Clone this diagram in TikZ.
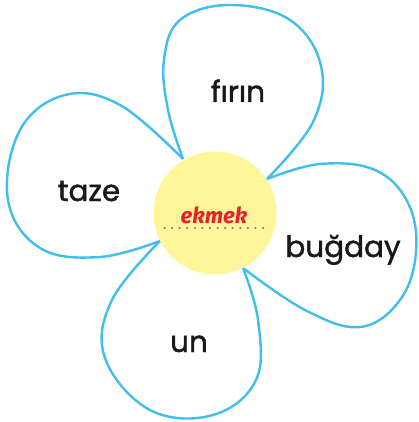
\documentclass[tikz,border=0pt]{standalone}
\usepackage{fontspec}
\usetikzlibrary{calc}
\setmainfont{Poppins}
\newfontfamily\redfont{Fira Sans}
\definecolor{petalblue}{RGB}{64,190,236}
\definecolor{centeryellow}{RGB}{255,245,155}
\definecolor{wordred}{RGB}{232,30,40}
\definecolor{dotgray}{RGB}{125,130,140}
\begin{document}
\begin{tikzpicture}[x=1pt,y=-1pt,
  petal/.style={draw=petalblue,line width=2.4pt,line join=round,fill=white},
  word/.style={anchor=base,inner sep=0pt,font=\fontsize{29.5}{29.5}\selectfont\addfontfeature{FakeBold=1.4},text=black!90},
  centerdisc/.style={circle,fill=centeryellow,minimum size=123pt,inner sep=0pt},
  dotmark/.style={fill=dotgray}]
\useasboundingbox (0,0) rectangle (418,422);
% petals
\draw[petal] plot[smooth,tension=0.65] coordinates {(183,159) (168,110) (164,60) (180,20) (230,5) (290,20) (321,66) (313,122) (267,179)};
\draw[petal] plot[smooth,tension=0.65] coordinates {(267,179) (320,164) (375,170) (408,203) (416,252) (400,300) (360,327) (305,310) (243,268)};
\draw[petal] plot[smooth,tension=0.65] coordinates {(243,268) (258,320) (256,380) (213,415) (150,410) (105,358) (112,300) (160,241)};
\draw[petal] plot[smooth,tension=0.65] coordinates {(160,241) (100,257) (40,248) (8,200) (20,130) (65,95) (120,105) (183,159)};
% center
\node[centerdisc] (c) at (215,213) {};
\coordinate (dl) at (164.5,228);
\coordinate (dr) at (263,228);
\foreach \t in {0,1,...,13} {
  \fill[dotmark] ($(dl)!\t/13!(dr)$) circle (1.25pt);
}
\node[anchor=base,inner sep=0pt,text=wordred,font=\redfont\bfseries\itshape\fontsize{22}{22}\selectfont] (ekmek) at (214,223) {ekmek};
% words
\node[word] (firin) at (238,102) {fırın};
\node[word] (taze) at (89,201) {taze};
\node[word] (bugday) at (343,257) {buğday};
\node[word] (un) at (189,352) {un};
\end{tikzpicture}
\end{document}
